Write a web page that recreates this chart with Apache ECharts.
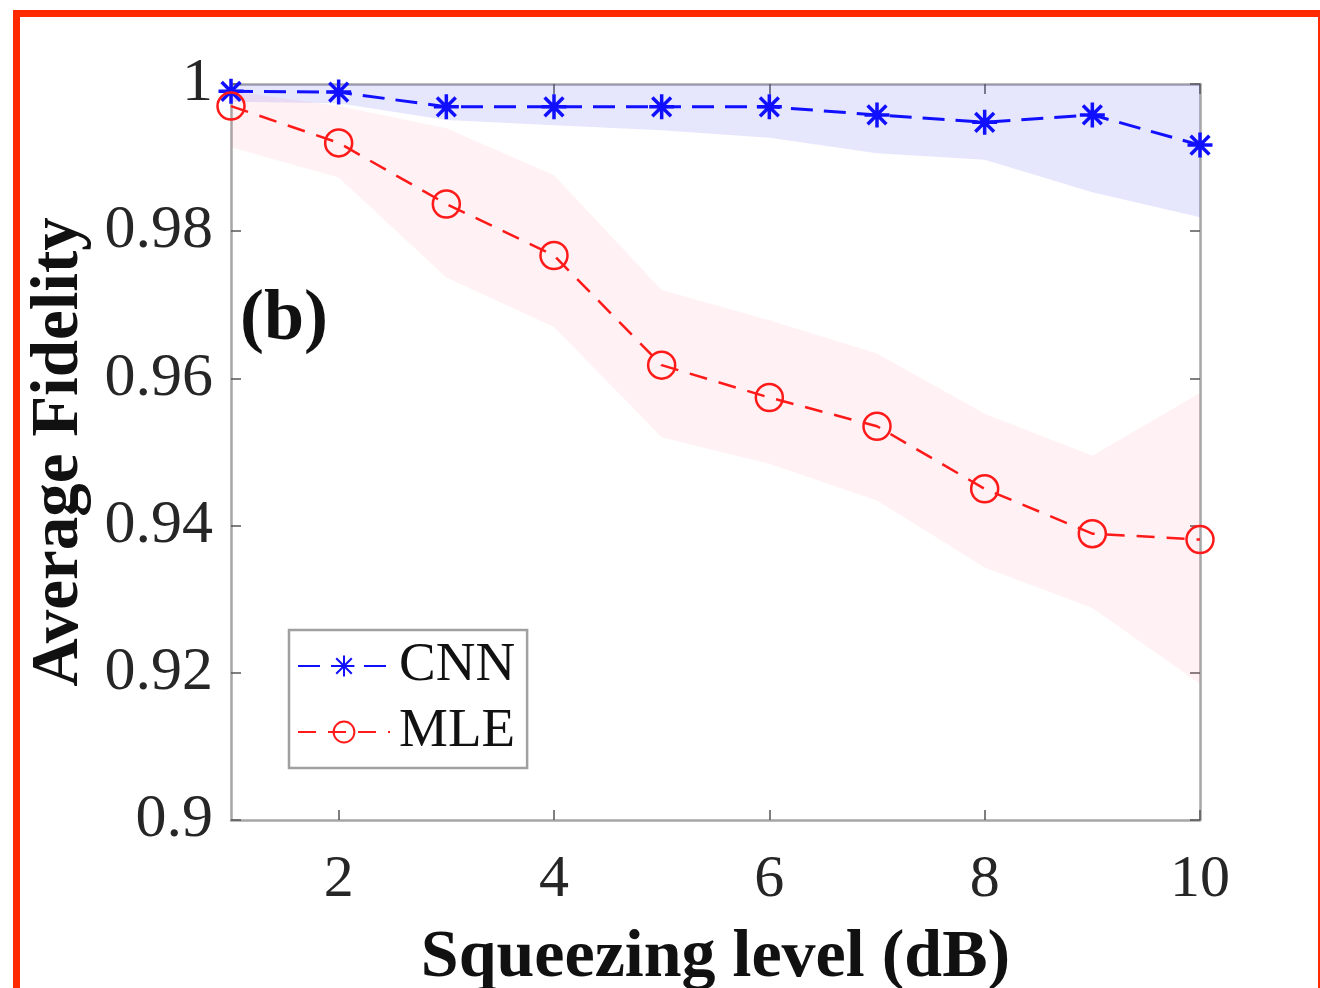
<!DOCTYPE html>
<html>
<head>
<meta charset="utf-8">
<script src="https://cdn.jsdelivr.net/npm/echarts@6/dist/echarts.min.js"></script>
<style>
html,body{margin:0;padding:0;background:#fff;}
#chart{width:1320px;height:988px;}
</style>
</head>
<body>
<div id="chart"></div>
<script>
// ---- data ----
const squeezing = [1, 2, 3, 4, 5, 6, 7, 8, 9, 10];
const cnnMean  = [0.9990, 0.9989, 0.9969, 0.9969, 0.9969, 0.9969, 0.9958, 0.9948, 0.9958, 0.9917];
const cnnUpper = [1.0000, 1.0000, 1.0000, 1.0000, 1.0000, 1.0000, 1.0000, 1.0000, 1.0000, 1.0000];
const cnnLower = [0.9976, 0.9974, 0.9951, 0.9944, 0.9937, 0.9927, 0.9906, 0.9897, 0.9853, 0.9819];
const mleMean  = [0.9970, 0.9920, 0.9837, 0.9767, 0.9618, 0.9574, 0.9535, 0.9450, 0.9389, 0.9381];
const mleUpper = [0.9990, 0.9970, 0.9940, 0.9876, 0.9720, 0.9679, 0.9634, 0.9552, 0.9495, 0.9580];
const mleLower = [0.9914, 0.9873, 0.9737, 0.9670, 0.9520, 0.9484, 0.9434, 0.9343, 0.9288, 0.9185];
const xTicks = [2, 4, 6, 8, 10];
const yTicks = [0.9, 0.92, 0.94, 0.96, 0.98, 1];

const pairs = (ys) => squeezing.map((x, i) => [x, ys[i]]);

const BLUE = '#1010ff';
const RED = '#ff1a1a';
const SERIF = '"Liberation Serif", "DejaVu Serif", serif';
const axisGray = '#a6a6a6';
const asterisk = 'path://M0,-10L0,10M-10,0L10,0M-7.5,-7.5L7.5,7.5M-7.5,7.5L7.5,-7.5';

function bandSeries(name, upper, lower, color) {
  return {
    name: name, type: 'custom', silent: true, z: 1, clip: true,
    data: [[squeezing[0], lower[0]]],
    renderItem: function (params, api) {
      const pts = [];
      for (let i = 0; i < squeezing.length; i++) pts.push(api.coord([squeezing[i], upper[i]]));
      for (let i = squeezing.length - 1; i >= 0; i--) pts.push(api.coord([squeezing[i], lower[i]]));
      return {type: 'polygon', shape: {points: pts}, style: {fill: color}};
    }
  };
}

const chart = echarts.init(document.getElementById('chart'), null, {renderer: 'canvas'});

const commonTick = {show: true, inside: true, length: 10, lineStyle: {color: '#555', width: 1.5}};

const option = {
  backgroundColor: '#fff',
  animation: false,
  grid: {left: 231, top: 84, right: 120, bottom: 168, containLabel: false, outerBoundsMode: 'none'},
  xAxis: [{
    type: 'value', min: 1, max: 10, position: 'bottom',
    axisLine: {show: true, lineStyle: {color: axisGray, width: 2.5}},
    axisTick: Object.assign({customValues: xTicks}, commonTick),
    axisLabel: {customValues: xTicks, fontFamily: SERIF, fontSize: 60, color: '#262626', margin: 30},
    splitLine: {show: false},
    name: 'Squeezing level (dB)', nameLocation: 'middle', nameGap: 104,
    nameTextStyle: {fontFamily: SERIF, fontWeight: 'bold', fontSize: 68, color: '#111'}
  }, {
    type: 'value', min: 1, max: 10, position: 'top',
    axisLine: {show: true, lineStyle: {color: axisGray, width: 2.5}},
    axisTick: Object.assign({customValues: xTicks}, commonTick),
    axisLabel: {show: false},
    splitLine: {show: false}
  }],
  yAxis: [{
    type: 'value', min: 0.9, max: 1, interval: 0.02, position: 'left',
    axisLine: {show: true, lineStyle: {color: axisGray, width: 2.5}},
    axisTick: Object.assign({customValues: yTicks}, commonTick),
    axisLabel: {customValues: yTicks, fontFamily: SERIF, fontSize: 62, color: '#262626', margin: 18,
      formatter: v => String(+(+v).toFixed(2))},
    splitLine: {show: false},
    name: 'Average Fidelity', nameLocation: 'middle', nameGap: 126, nameRotate: 90,
    nameTextStyle: {fontFamily: SERIF, fontWeight: 'bold', fontSize: 67, color: '#111'}
  }, {
    type: 'value', min: 0.9, max: 1, interval: 0.02, position: 'right',
    axisLine: {show: true, lineStyle: {color: axisGray, width: 2.5}},
    axisTick: Object.assign({customValues: yTicks}, commonTick),
    axisLabel: {show: false},
    splitLine: {show: false}
  }],
  legend: {
    data: ['CNN', 'MLE'],
    left: 289, top: 630, orient: 'vertical',
    backgroundColor: '#fff',
    borderColor: '#a0a0a0', borderWidth: 2.5, borderRadius: 0,
    padding: [8, 12, 8, 8],
    itemWidth: 92, itemHeight: 26, itemGap: 10,
    textStyle: {fontFamily: SERIF, fontSize: 55, color: '#111', lineHeight: 56, padding: [0, 0, 0, 4]}
  },
  series: [
    bandSeries('cnnBand', cnnUpper, cnnLower, 'rgba(80,80,240,0.14)'),
    bandSeries('mleBand', mleUpper, mleLower, 'rgba(255,120,150,0.10)'),
    {
      name: 'CNN', type: 'line', data: pairs(cnnMean), z: 3,
      symbol: asterisk, symbolSize: 25,
      itemStyle: {color: BLUE, borderColor: BLUE, borderWidth: 3.5},
      lineStyle: {color: BLUE, width: 3, type: [22, 11]}
    },
    {
      name: 'MLE', type: 'line', data: pairs(mleMean), z: 3,
      symbol: 'circle', symbolSize: 27,
      itemStyle: {color: 'none', borderColor: RED, borderWidth: 2.5},
      lineStyle: {color: RED, width: 2.5, type: [18, 12]}
    }
  ],
  graphic: [
    {type: 'text', left: 240, top: 284, z: 10,
      style: {text: '(b)', font: 'bold 72px "Liberation Serif", serif', fill: '#111'}},
    {type: 'rect', shape: {x: 13, y: 10, width: 1307, height: 7}, style: {fill: '#ff2a00'}, z: 20},
    {type: 'rect', shape: {x: 13, y: 10, width: 7, height: 978}, style: {fill: '#ff2a00'}, z: 20},
    {type: 'rect', shape: {x: 1318, y: 10, width: 2, height: 978}, style: {fill: '#ff2a00'}, z: 20}
  ]
};
chart.setOption(option);
</script>
</body>
</html>
